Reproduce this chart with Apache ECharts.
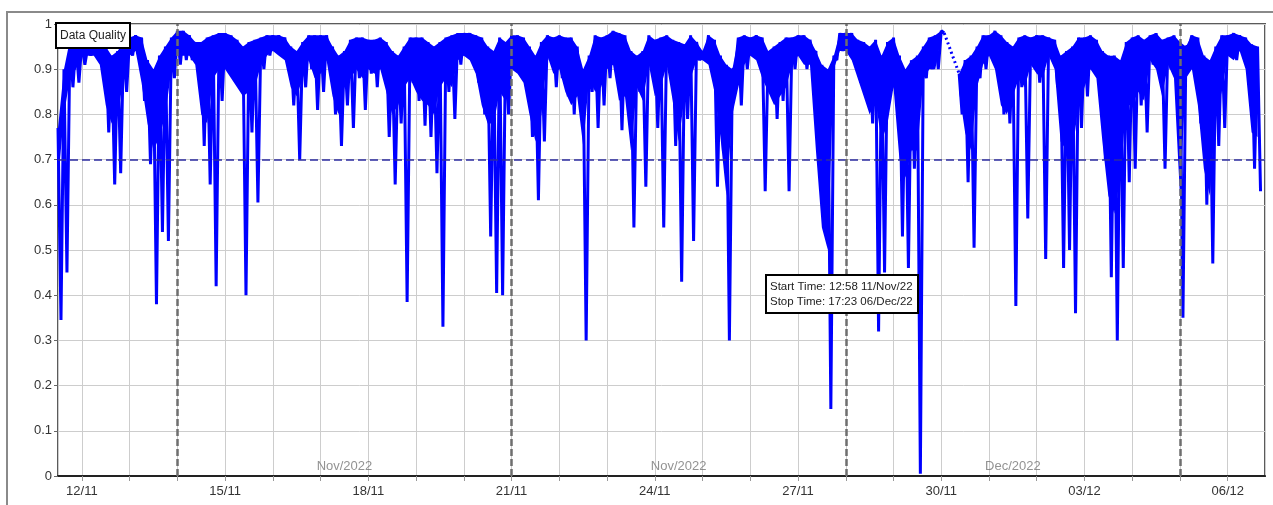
<!DOCTYPE html>
<html>
<head>
<meta charset="utf-8">
<script src="https://cdn.jsdelivr.net/npm/echarts@6/dist/echarts.min.js"></script>
<style>
  html, body { margin: 0; padding: 0; background: #fff; }
  #chart { width: 1273px; height: 505px; }
</style>
</head>
<body>
<div id="chart"></div>
<script>
// readings every 3 hours from 11/Nov 12:00 (A) and 90 minutes later (B), one row per day
const qualityA = [
  0.77, 0.90, 0.965, 0.96,
  0.96, 0.95, 0.96, 0.95, 0.95, 0.93, 0.94, 0.96,
  0.97, 0.975, 0.97, 0.92, 0.90, 0.93, 0.95, 0.97,
  0.985, 0.985, 0.975, 0.96, 0.96, 0.97, 0.975, 0.98,
  0.98, 0.975, 0.965, 0.95, 0.96, 0.965, 0.97, 0.975,
  0.975, 0.975, 0.97, 0.95, 0.94, 0.96, 0.975, 0.975,
  0.975, 0.975, 0.95, 0.93, 0.94, 0.965, 0.97, 0.97,
  0.965, 0.965, 0.97, 0.96, 0.94, 0.93, 0.95, 0.97,
  0.97, 0.97, 0.96, 0.95, 0.96, 0.97, 0.975, 0.98,
  0.98, 0.98, 0.975, 0.97, 0.95, 0.94, 0.97, 0.96,
  0.975, 0.975, 0.97, 0.95, 0.93, 0.96, 0.975, 0.97,
  0.975, 0.97, 0.97, 0.95, 0.90, 0.93, 0.975, 0.97,
  0.975, 0.985, 0.98, 0.975, 0.94, 0.93, 0.94, 0.975,
  0.965, 0.97, 0.975, 0.965, 0.96, 0.955, 0.975, 0.96,
  0.94, 0.975, 0.965, 0.93, 0.91, 0.90, 0.97, 0.975,
  0.97, 0.975, 0.97, 0.94, 0.95, 0.96, 0.97, 0.97,
  0.975, 0.975, 0.965, 0.94, 0.91, 0.90, 0.93, 0.98,
  0.98, 0.98, 0.965, 0.96, 0.95, 0.965, 0.93, 0.96,
  0.97, 0.93, 0.90, 0.92, 0.93, 0.95, 0.97, 0.975,
  0.985, null, null, 0.89, 0.92, 0.93, 0.95, 0.975,
  0.975, 0.985, 0.975, 0.96, 0.95, 0.97, 0.975, 0.97,
  0.975, 0.975, 0.97, 0.965, 0.93, 0.94, 0.95, 0.97,
  0.97, 0.975, 0.965, 0.94, 0.93, 0.93, 0.92, 0.96,
  0.97, 0.975, 0.965, 0.975, 0.98, 0.965, 0.97, 0.975,
  0.96, 0.95, 0.975, 0.97, 0.93, 0.92, 0.95, 0.975,
  0.975, 0.98, 0.975, 0.97, 0.955, 0.95
];
const qualityB = [
  0.345, 0.45, 0.86, 0.87,
  0.91, 0.93, 0.93, 0.90, 0.76, 0.645, 0.67, 0.85,
  0.93, 0.93, 0.83, 0.69, 0.38, 0.54, 0.52, 0.88,
  0.91, 0.92, 0.92, 0.90, 0.73, 0.645, 0.42, 0.83,
  0.90, 0.89, 0.86, 0.40, 0.76, 0.605, 0.90, 0.93,
  0.94, 0.93, 0.92, 0.82, 0.70, 0.86, 0.90, 0.81,
  0.85, 0.92, 0.80, 0.73, 0.82, 0.77, 0.88, 0.81,
  0.89, 0.86, 0.90, 0.75, 0.645, 0.78, 0.385, 0.87,
  0.83, 0.775, 0.75, 0.67, 0.33, 0.85, 0.79, 0.91,
  0.93, 0.92, 0.87, 0.80, 0.53, 0.405, 0.40, 0.80,
  0.90, 0.89, 0.86, 0.75, 0.61, 0.74, 0.92, 0.86,
  0.88, 0.84, 0.80, 0.83, 0.30, 0.85, 0.77, 0.82,
  0.88, 0.90, 0.765, 0.82, 0.55, 0.85, 0.64, 0.90,
  0.77, 0.55, 0.90, 0.73, 0.43, 0.79, 0.52, 0.92,
  0.92, 0.90, 0.64, 0.72, 0.30, 0.90, 0.82, 0.90,
  0.94, 0.92, 0.63, 0.85, 0.79, 0.83, 0.63, 0.90,
  0.94, 0.90, 0.93, 0.70, 0.55, 0.148, 0.92, 0.94,
  0.94, 0.92, 0.87, 0.85, 0.78, 0.32, 0.45, 0.88,
  0.85, 0.53, 0.46, 0.68, 0.005, 0.88, 0.90, 0.90,
  0.98, null, null, 0.80, 0.65, 0.505, 0.88, 0.90,
  0.94, 0.90, 0.80, 0.78, 0.376, 0.86, 0.57, 0.92,
  0.87, 0.48, 0.94, 0.86, 0.46, 0.50, 0.36, 0.77,
  0.84, 0.90, 0.88, 0.70, 0.44, 0.30, 0.46, 0.65,
  0.68, 0.82, 0.76, 0.91, 0.89, 0.68, 0.90, 0.87,
  0.35, 0.95, 0.90, 0.78, 0.60, 0.47, 0.73, 0.77,
  0.93, 0.92, 0.94, 0.885, 0.68, 0.63
];
// lower edge of the solid band at each 3-hour mark (thin spikes left out)
const bandLow = [
  0.65, 0.80, 0.88, 0.90,
  0.93, 0.93, 0.93, 0.91, 0.82, 0.78, 0.80, 0.88,
  0.93, 0.94, 0.87, 0.78, 0.72, 0.75, 0.80, 0.90,
  0.93, 0.93, 0.93, 0.91, 0.80, 0.78, 0.88, 0.90,
  0.90, 0.88, 0.86, 0.84, 0.85, 0.86, 0.91, 0.93,
  0.94, 0.93, 0.92, 0.86, 0.84, 0.88, 0.92, 0.88,
  0.89, 0.92, 0.84, 0.80, 0.86, 0.88, 0.90, 0.88,
  0.90, 0.89, 0.90, 0.85, 0.80, 0.82, 0.86, 0.88,
  0.85, 0.83, 0.82, 0.80, 0.86, 0.88, 0.86, 0.92,
  0.93, 0.92, 0.89, 0.82, 0.78, 0.78, 0.85, 0.83,
  0.90, 0.89, 0.87, 0.80, 0.74, 0.80, 0.93, 0.89,
  0.90, 0.85, 0.82, 0.84, 0.73, 0.88, 0.85, 0.86,
  0.90, 0.91, 0.83, 0.84, 0.72, 0.86, 0.83, 0.91,
  0.84, 0.86, 0.91, 0.83, 0.74, 0.84, 0.88, 0.92,
  0.92, 0.91, 0.85, 0.75, 0.62, 0.80, 0.86, 0.91,
  0.93, 0.92, 0.88, 0.85, 0.82, 0.84, 0.86, 0.91,
  0.93, 0.91, 0.91, 0.72, 0.55, 0.50, 0.90, 0.94,
  0.94, 0.92, 0.88, 0.84, 0.80, 0.83, 0.74, 0.78,
  0.86, 0.70, 0.66, 0.72, 0.72, 0.88, 0.90, 0.90,
  0.97, null, null, 0.85, 0.76, 0.72, 0.86, 0.91,
  0.93, 0.90, 0.82, 0.80, 0.84, 0.88, 0.86, 0.91,
  0.89, 0.88, 0.93, 0.90, 0.74, 0.72, 0.72, 0.82,
  0.86, 0.90, 0.88, 0.74, 0.62, 0.58, 0.66, 0.82,
  0.82, 0.85, 0.83, 0.92, 0.90, 0.84, 0.91, 0.88,
  0.62, 0.88, 0.90, 0.82, 0.68, 0.62, 0.80, 0.85,
  0.93, 0.92, 0.94, 0.90, 0.76, 0.75
];

// dotted link across the missing stretch on 30/11
const gapTimes = [new Date(2022, 10, 30, 1, 30), new Date(2022, 10, 30, 9, 0)];
const gapValues = [0.98, 0.89];

const threshold = 0.7;
const weekStarts = [new Date(2022, 10, 14), new Date(2022, 10, 21), new Date(2022, 10, 28), new Date(2022, 11, 5)];
const monthLabels = ['Nov/2022', 'Nov/2022', 'Dec/2022'];
const monthLabelTimes = [new Date(2022, 10, 17, 12), new Date(2022, 10, 24, 12), new Date(2022, 11, 1, 12)];
const monthLabelLevel = 0.022;

const startTime = new Date(2022, 10, 11, 12, 0).getTime();
const endTime = new Date(2022, 11, 6, 18, 45).getTime();
const stepMs = 3 * 3600 * 1000;
const dayMs = 24 * 3600 * 1000;
const labelBase = new Date(2022, 10, 12).getTime();

const lineData = [];
const baseData = [];
const fillData = [];
qualityA.forEach((v, i) => {
    const t = startTime + i * stepMs;
    const b = qualityB[i];
    lineData.push([t, v === null ? '-' : v]);
    lineData.push([t + stepMs / 2, b === null ? '-' : b]);
    const low = bandLow[i];
    baseData.push([t, low === null ? '-' : low]);
    fillData.push([t, (v === null || low === null) ? '-' : +(v - low).toFixed(3)]);
});

const pad = n => (n < 10 ? '0' : '') + n;
const font = 'Liberation Sans, Arial, sans-serif';
const blue = '#0000ff';

const chart = echarts.init(document.getElementById('chart'));
chart.setOption({
    animation: false,
    backgroundColor: '#fff',
    grid: { left: 58, right: 8, top: 24, bottom: 29, show: true, borderColor: '#5a5a5a', borderWidth: 2 },
    xAxis: {
        type: 'time',
        min: startTime,
        max: endTime,
        minInterval: dayMs,
        maxInterval: dayMs,
        splitLine: { show: true, lineStyle: { color: '#cdcdcd', width: 1 } },
        axisLine: { lineStyle: { color: '#222', width: 2 } },
        axisTick: { show: true, length: 5, lineStyle: { color: '#999' } },
        axisLabel: {
            color: '#333', fontSize: 13, fontFamily: font, margin: 9,
            formatter: function (value) {
                const d = Math.round((value - labelBase) / dayMs);
                if (Math.abs(value - labelBase - d * dayMs) > 60000) return '';
                if (d % 3 !== 0) return '';
                const dt = new Date(value);
                return pad(dt.getDate()) + '/' + pad(dt.getMonth() + 1);
            }
        }
    },
    yAxis: {
        type: 'value',
        min: 0,
        max: 1,
        interval: 0.1,
        axisLine: { show: false },
        axisTick: { show: true, length: 4, lineStyle: { color: '#666' } },
        splitLine: { lineStyle: { color: '#cdcdcd', width: 1 } },
        axisLabel: { color: '#333', fontSize: 13, fontFamily: font, margin: 6 }
    },
    series: [
        {
            type: 'line',
            data: baseData,
            stack: 'band',
            symbol: 'none',
            lineStyle: { width: 0, opacity: 0 },
            z: 1
        },
        {
            type: 'line',
            data: fillData,
            stack: 'band',
            symbol: 'none',
            lineStyle: { width: 0, opacity: 0 },
            areaStyle: { color: blue, opacity: 1 },
            z: 1
        },
        {
            name: 'Data Quality',
            type: 'line',
            data: lineData,
            symbol: 'none',
            connectNulls: false,
            lineStyle: { color: blue, width: 3 },
            z: 2
        },
        {
            type: 'line',
            data: gapTimes.map((t, i) => [t.getTime(), gapValues[i]]),
            symbol: 'none',
            lineStyle: { color: blue, width: 3, type: [2, 3] },
            z: 2
        },
        {
            type: 'scatter',
            data: monthLabelTimes.map((t, i) => [t.getTime(), monthLabelLevel, monthLabels[i]]),
            symbolSize: 1,
            itemStyle: { color: 'transparent' },
            label: {
                show: true, position: 'inside', color: '#777', fontSize: 13, fontFamily: font,
                formatter: p => p.value[2]
            },
            z: 3
        },
        {
            type: 'line',
            data: [],
            z: 5,
            markLine: {
                silent: true,
                symbol: 'none',
                label: { show: false },
                data: [
                    { yAxis: threshold, lineStyle: { color: '#2c2ca0', width: 1.5, type: [8, 4] } }
                ].concat(weekStarts.map(d => ({
                    xAxis: d.getTime(),
                    lineStyle: { color: '#6e6e6e', width: 2.5, type: [7, 3] }
                })))
            }
        }
    ],
    graphic: [
        { type: 'rect', shape: { x: 7, y: 12, width: 1300, height: 600 }, style: { fill: 'none', stroke: '#8a8a8a', lineWidth: 2 }, z: 0 },
        { type: 'rect', shape: { x: 56, y: 23, width: 74, height: 25 }, style: { fill: '#fff', stroke: '#000', lineWidth: 2 }, z: 100 },
        { type: 'text', x: 93, y: 35.5, style: { text: 'Data Quality', font: '12px ' + font, fill: '#222', align: 'center', verticalAlign: 'middle' }, z: 101 },
        { type: 'rect', shape: { x: 766, y: 275, width: 152, height: 38 }, style: { fill: '#fff', stroke: '#000', lineWidth: 2 }, z: 100 },
        { type: 'text', x: 770, y: 287, style: { text: 'Start Time: 12:58 11/Nov/22', font: '11.5px ' + font, fill: '#222', verticalAlign: 'middle' }, z: 101 },
        { type: 'text', x: 770, y: 302, style: { text: 'Stop Time: 17:23 06/Dec/22', font: '11.5px ' + font, fill: '#222', verticalAlign: 'middle' }, z: 101 }
    ]
});
</script>
</body>
</html>
